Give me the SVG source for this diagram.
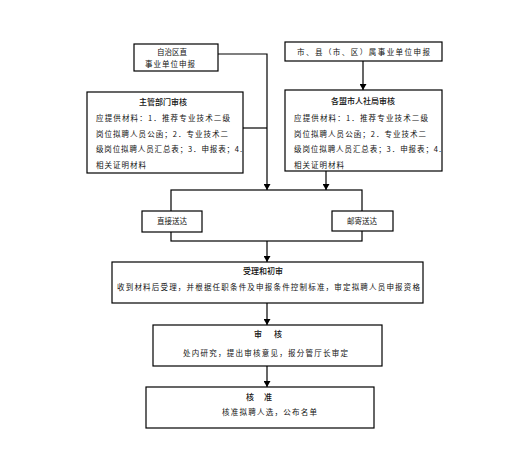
<svg xmlns="http://www.w3.org/2000/svg" width="516" height="475" viewBox="0 0 516 475">
<style>
.box{fill:#fff;stroke:#000;stroke-width:1.2}
.ln{fill:none;stroke:#000;stroke-width:1.2}
text{font-family:"Noto Sans CJK SC","Noto Sans CJK JP",sans-serif;font-size:7.5px;fill:#111}
.t{font-size:8px;font-weight:500}
.c{text-anchor:middle}
</style>
<defs>
<marker id="ah" viewBox="0 0 6 7" refX="6" refY="3.5" markerWidth="6" markerHeight="7" markerUnits="userSpaceOnUse" orient="auto">
<path d="M0,0 L6,3.5 L0,7 z" fill="#000"/>
</marker>
</defs>
<rect width="516" height="475" fill="#fff"/>
<g id="connectors">
<rect class="ln" x="171" y="190" width="191" height="51"/>
<polyline class="ln" points="218,54 267,54 267,190" marker-end="url(#ah)"/>
<line class="ln" x1="243" y1="128" x2="267" y2="128"/>
<line class="ln" x1="363" y1="61" x2="363" y2="90" marker-end="url(#ah)"/>
<line class="ln" x1="326" y1="171" x2="326" y2="190" marker-end="url(#ah)"/>
<line class="ln" x1="267" y1="241" x2="267" y2="262" marker-end="url(#ah)"/>
<line class="ln" x1="267" y1="303" x2="267" y2="325" marker-end="url(#ah)"/>
<line class="ln" x1="267" y1="366" x2="267" y2="387" marker-end="url(#ah)"/>
</g>
<g id="n-zizhiqu">
<rect class="box" x="134" y="44" width="84" height="27"/>
<text class="c" x="172" y="55">自治区直</text>
<text x="145" y="67" textLength="50">事业单位申报</text>
</g>
<g id="n-zhuguan">
<rect class="box" x="87" y="92" width="156" height="81"/>
<text class="t c" x="163" y="105">主管部门审核</text>
<text x="96" y="121" textLength="134">应提供材料：1．推荐专业技术二级</text>
<text x="96" y="137" textLength="132">岗位拟聘人员公函；2．专业技术二</text>
<text x="96" y="152" textLength="146">级岗位拟聘人员汇总表；3．申报表；4.</text>
<text x="96" y="168" textLength="50">相关证明材料</text>
</g>
<g id="n-shixian">
<rect class="box" x="285" y="42" width="157" height="19"/>
<text x="297" y="55" textLength="133">市、县（市、区）属事业单位申报</text>
</g>
<g id="n-mengshi">
<rect class="box" x="285" y="90" width="157" height="81"/>
<text class="t c" x="363" y="104">各盟市人社局审核</text>
<text x="294" y="121" textLength="134">应提供材料：1．推荐专业技术二级</text>
<text x="294" y="137" textLength="132">岗位拟聘人员公函；2．专业技术二</text>
<text x="294" y="152" textLength="147">级岗位拟聘人员汇总表；3．申报表；4.</text>
<text x="294" y="168" textLength="50">相关证明材料</text>
</g>
<g id="n-zhijie">
<rect class="box" x="142" y="211" width="60" height="21"/>
<text class="c" x="172" y="224">直接送达</text>
</g>
<g id="n-youji">
<rect class="box" x="332" y="211" width="61" height="20"/>
<text class="c" x="362" y="224">邮寄送达</text>
</g>
<g id="n-shouli">
<rect class="box" x="112" y="262" width="311" height="41"/>
<text class="t c" x="263" y="274">受理和初审</text>
<text x="117" y="290" textLength="303">收到材料后受理，并根据任职条件及申报条件控制标准，审定拟聘人员申报资格</text>
</g>
<g id="n-shenhe">
<rect class="box" x="153" y="325" width="229" height="41"/>
<text class="t" x="254" y="337">审</text>
<text class="t" x="274" y="337">核</text>
<text x="183" y="356" textLength="165">处内研究，提出审核意见，报分管厅长审定</text>
</g>
<g id="n-hezhun">
<rect class="box" x="146" y="387" width="228" height="41"/>
<text class="t" x="246" y="400">核</text>
<text class="t" x="264" y="400">准</text>
<text x="222" y="415" textLength="95">核准拟聘人选，公布名单</text>
</g>
</svg>
